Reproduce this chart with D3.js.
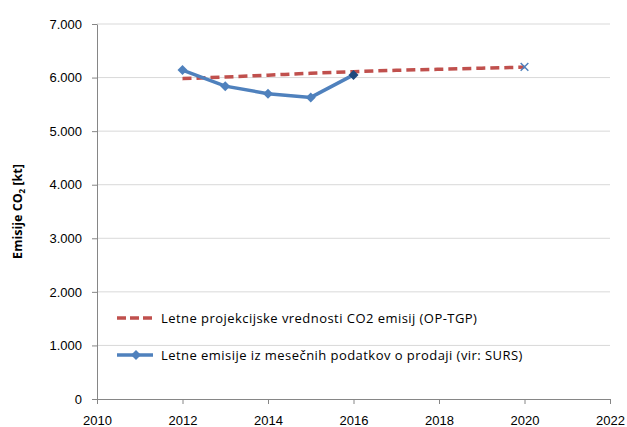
<!DOCTYPE html>
<meta charset="UTF-8">
<script src="https://cdnjs.cloudflare.com/ajax/libs/d3/7.8.5/d3.min.js"></script>
<style>
  body { margin: 0; background: #fff; }
  svg { font-family: "Open Sans", Lato, sans-serif; }
</style>
<svg id="chart"></svg>
<script>
// projection series (OP-TGP)
const projYears = [2012, 2013, 2014, 2015, 2016, 2017, 2018, 2019, 2020];
const projValues = [5980, 6010, 6045, 6080, 6110, 6135, 6155, 6175, 6195];
// monthly sales based emissions (SURS)
const actYears = [2012, 2013, 2014, 2015, 2016];
const actValues = [6140, 5840, 5700, 5630, 6050];
// target marker
const targetYear = [2020];
const targetValue = [6200];

const yTicks = [0, 1000, 2000, 3000, 4000, 5000, 6000, 7000];
const xTicks = [2010, 2012, 2014, 2016, 2018, 2020, 2022];
const legendLabels = [
  "Letne projekcijske vrednosti CO2 emisij (OP-TGP)",
  "Letne emisije iz mesečnih podatkov o prodaji (vir: SURS)"
];

const width = 627, height = 427;
const margin = {top: 24, right: 17, bottom: 28, left: 97};

const svg = d3.select("#chart").attr("width", width).attr("height", height);

const x = d3.scaleLinear().domain([2010, 2022]).range([margin.left, width - margin.right]);
const y = d3.scaleLinear().domain([0, 7000]).range([height - margin.bottom, margin.top]);

const fmt = d => d === 0 ? "0" : d3.format(",")(d).replace(/,/g, ".");

// gridlines
svg.append("g")
  .selectAll("line")
  .data(yTicks.filter(d => d > 0))
  .join("line")
  .attr("x1", x(2010)).attr("x2", x(2022))
  .attr("y1", d => y(d)).attr("y2", d => y(d))
  .attr("stroke", "#d9d9d9").attr("stroke-width", 1);

// y axis
const yAxis = svg.append("g")
  .attr("transform", `translate(${x(2010)},0)`)
  .call(d3.axisLeft(y).tickValues(yTicks).tickFormat(fmt).tickSize(5).tickSizeOuter(0));
yAxis.select(".domain").attr("stroke", "#868686");
yAxis.selectAll(".tick line").attr("stroke", "#868686");
yAxis.selectAll("text").attr("font-size", 13).attr("fill", "#000").attr("x", -15);

// x axis
const xAxis = svg.append("g")
  .attr("transform", `translate(0,${y(0)})`)
  .call(d3.axisBottom(x).tickValues(xTicks).tickFormat(d3.format("d")).tickSize(5).tickSizeOuter(0));
xAxis.select(".domain").attr("stroke", "#868686");
xAxis.selectAll(".tick line").attr("stroke", "#868686");
xAxis.selectAll("text").attr("font-size", 13).attr("fill", "#000").attr("y", 17);

// y title
const yt = svg.append("text")
  .attr("transform", `translate(22,${y(3500)}) rotate(-90)`)
  .attr("text-anchor", "middle")
  .attr("font-size", 12.5).attr("font-weight", "bold");
yt.append("tspan").text("Emisije CO");
yt.append("tspan").attr("font-size", 8).attr("dy", 3).text("2");
yt.append("tspan").attr("dy", -3).text(" [kt]");

// projection line
svg.append("path")
  .datum(d3.zip(projYears, projValues))
  .attr("d", d3.line().x(d => x(d[0])).y(d => y(d[1])).curve(d3.curveMonotoneX))
  .attr("fill", "none")
  .attr("stroke", "#c0504d")
  .attr("stroke-width", 3.5)
  .attr("stroke-dasharray", "9,5");

// actual line
const actData = d3.zip(actYears, actValues);
svg.append("path")
  .datum(actData)
  .attr("d", d3.line().x(d => x(d[0])).y(d => y(d[1])))
  .attr("fill", "none")
  .attr("stroke", "#4f81bd")
  .attr("stroke-width", 3.5);

// square rotated 45deg = excel diamond
const diamond = d3.symbol().type(d3.symbolSquare).size(50);
svg.append("g")
  .selectAll("path")
  .data(actData)
  .join("path")
  .attr("d", diamond)
  .attr("transform", d => `translate(${x(d[0])},${y(d[1])}) rotate(45)`)
  .attr("fill", (d, i) => i === actData.length - 1 ? "#1f497d" : "#4f81bd");

// target marker (x)
svg.append("g")
  .selectAll("path")
  .data(d3.zip(targetYear, targetValue))
  .join("path")
  .attr("d", d3.symbol().type(d3.symbolX).size(40))
  .attr("transform", d => `translate(${x(d[0])},${y(d[1])})`)
  .attr("fill", "none")
  .attr("stroke", "#4f81bd")
  .attr("stroke-width", 1.5);

// legend
const lg = svg.append("g").attr("transform", "translate(117,0)");
lg.append("line")
  .attr("x1", 0).attr("x2", 36).attr("y1", 318).attr("y2", 318)
  .attr("stroke", "#c0504d").attr("stroke-width", 3.5).attr("stroke-dasharray", "9,4");
lg.append("text").attr("x", 44).attr("y", 318).attr("dy", "0.35em")
  .attr("font-size", 13).attr("letter-spacing", 0.45).text(legendLabels[0]);
lg.append("line")
  .attr("x1", 0).attr("x2", 36).attr("y1", 355).attr("y2", 355)
  .attr("stroke", "#4f81bd").attr("stroke-width", 3.5);
lg.append("path").attr("d", diamond).attr("transform", "translate(19,355) rotate(45)").attr("fill", "#4f81bd");
lg.append("text").attr("x", 44).attr("y", 355).attr("dy", "0.35em")
  .attr("font-size", 13).attr("letter-spacing", 0.45).text(legendLabels[1]);
</script>
